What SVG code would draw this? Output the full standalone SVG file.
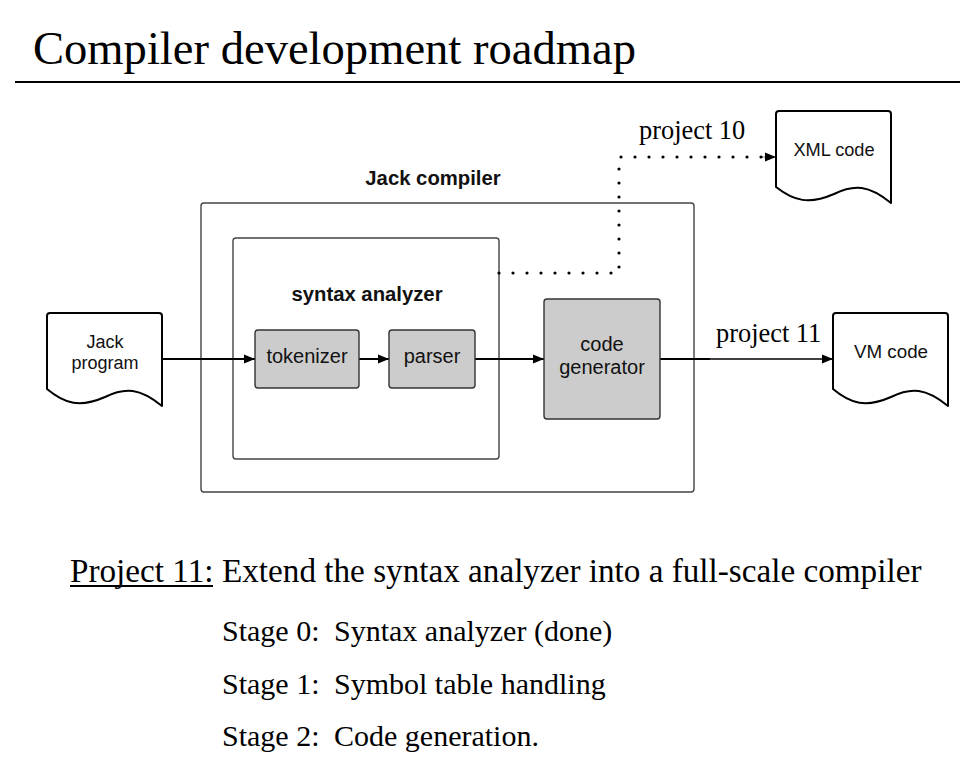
<svg xmlns="http://www.w3.org/2000/svg" width="960" height="784" viewBox="0 0 960 784">
<style>
.serif{font-family:"Liberation Serif","Times New Roman",serif;fill:#000}
.sans{font-family:"Liberation Sans",Arial,sans-serif;fill:#111}
.bold{font-weight:bold}
.doc{fill:#fff;stroke:#000;stroke-width:2;stroke-linejoin:round}
.frame{fill:#fff;stroke:#444;stroke-width:1.4}
.proc{fill:#cccccc;stroke:#333;stroke-width:1.4}
.flow{stroke:#000;stroke-width:2;fill:none}
.dots{stroke:#000;stroke-width:3.2;fill:none;stroke-dasharray:0 14;stroke-linecap:round}
</style>
<defs>
<marker id="arr" markerWidth="12" markerHeight="10" refX="11" refY="5" orient="auto" markerUnits="userSpaceOnUse">
<path d="M0,0.5 L11,5 L0,9.5 Z" fill="#000"/>
</marker>
</defs>
<rect width="960" height="784" fill="#fff"/>

<g id="title">
<text class="serif" x="33" y="64" font-size="46.6">Compiler development roadmap</text>
<line x1="15" y1="82" x2="960" y2="82" stroke="#000" stroke-width="2.2"/>
</g>

<g id="jack-compiler">
<rect class="frame" x="201" y="203" width="493" height="289" rx="3"/>
<text class="sans bold" x="433" y="185" font-size="20.3" text-anchor="middle">Jack compiler</text>
</g>

<g id="syntax-analyzer">
<rect class="frame" x="233" y="238" width="266" height="221" rx="3"/>
<text class="sans bold" x="367" y="301" font-size="20.3" text-anchor="middle">syntax analyzer</text>
</g>

<g id="connectors">
<line class="flow" x1="163" y1="359" x2="255" y2="359" marker-end="url(#arr)"/>
<line class="flow" x1="359" y1="359" x2="389" y2="359" marker-end="url(#arr)"/>
<line class="flow" x1="475" y1="359" x2="544" y2="359" marker-end="url(#arr)"/>
<line class="flow" x1="660" y1="359" x2="710" y2="359"/>
<line x1="709" y1="359" x2="833" y2="359" stroke="#000" stroke-width="1.3" marker-end="url(#arr)"/>
<path class="dots" d="M499,273 H619 V157 H762"/>
<line x1="762" y1="157" x2="776" y2="157" stroke="#000" stroke-width="0.5" marker-end="url(#arr)"/>
<text class="serif" x="639" y="139" font-size="26.4">project 10</text>
<text class="serif" x="716" y="342" font-size="26.4">project 11</text>
</g>

<g id="jack-program">
<path class="doc" d="M47,316 Q47,313 50,313 L159,313 Q162,313 162,316 L162,406 C140,388 125,387 105,397 C80,408 65,404 47,389 Z"/>
<text class="sans" x="105" y="348" font-size="18" text-anchor="middle">Jack</text>
<text class="sans" x="105" y="369" font-size="18" text-anchor="middle">program</text>
</g>

<g id="tokenizer">
<rect class="proc" x="255" y="330" width="104" height="58" rx="3"/>
<text class="sans" x="307" y="363" font-size="20" text-anchor="middle">tokenizer</text>
</g>

<g id="parser">
<rect class="proc" x="389" y="330" width="86" height="58" rx="3"/>
<text class="sans" x="432" y="363" font-size="20" text-anchor="middle">parser</text>
</g>

<g id="code-generator">
<rect class="proc" x="544" y="299" width="116" height="120" rx="3"/>
<text class="sans" x="602" y="351" font-size="20" text-anchor="middle">code</text>
<text class="sans" x="602" y="374" font-size="20" text-anchor="middle">generator</text>
</g>

<g id="xml-code">
<path class="doc" d="M776,114 Q776,111 779,111 L888,111 Q891,111 891,114 L891,203 C869,185 854,184 834,194 C809,205 794,201 776,187 Z"/>
<text class="sans" x="834" y="156" font-size="18.2" text-anchor="middle">XML code</text>
</g>

<g id="vm-code">
<path class="doc" d="M833,316 Q833,313 836,313 L945,313 Q948,313 948,316 L948,406 C926,388 911,387 891,397 C866,408 851,404 833,389 Z"/>
<text class="sans" x="891" y="358" font-size="18.8" text-anchor="middle">VM code</text>
</g>

<g id="notes">
<text class="serif" x="70" y="582" font-size="33.2">Project 11:<tspan x="222">Extend the syntax analyzer into a full-scale compiler</tspan></text>
<line x1="70" y1="586" x2="213" y2="586" stroke="#000" stroke-width="1.8"/>
<text class="serif" x="222" y="641" font-size="30">Stage 0:<tspan x="334">Syntax analyzer (done)</tspan></text>
<text class="serif" x="222" y="693.5" font-size="30">Stage 1:<tspan x="334">Symbol table handling</tspan></text>
<text class="serif" x="222" y="746" font-size="30">Stage 2:<tspan x="334">Code generation.</tspan></text>
</g>
</svg>
